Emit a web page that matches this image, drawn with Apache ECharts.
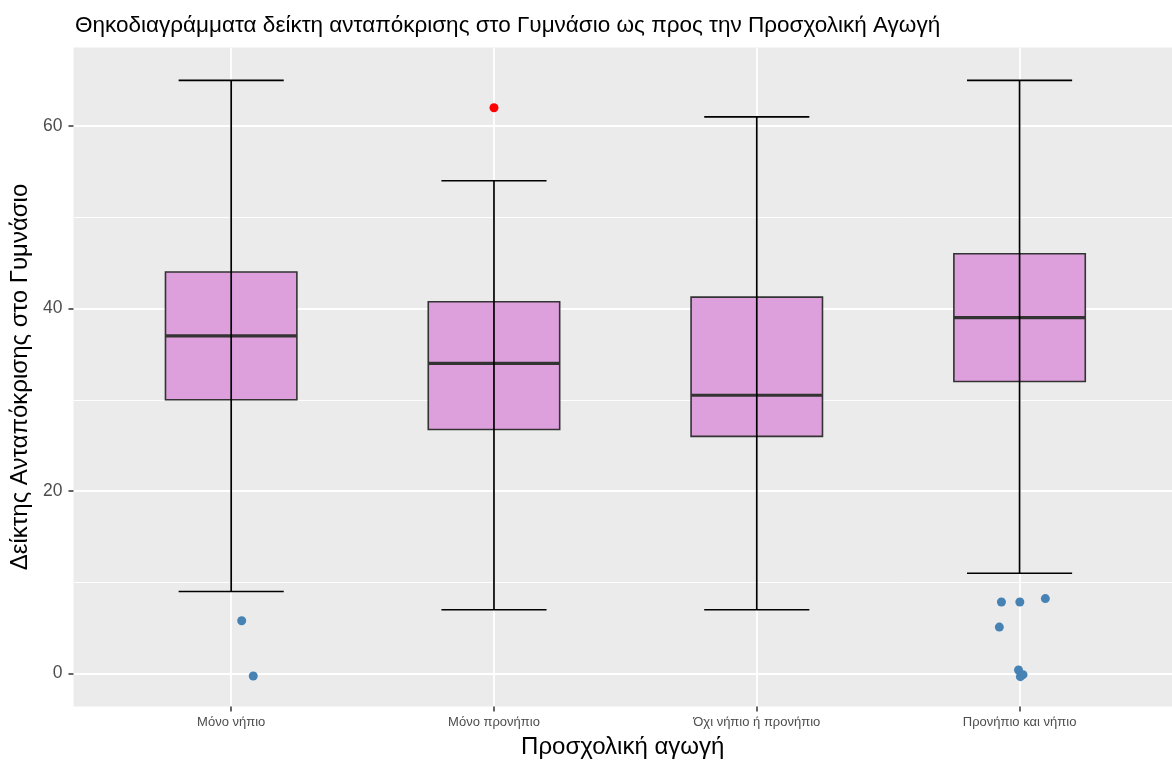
<!DOCTYPE html>
<html>
<head>
<meta charset="utf-8">
<script src="https://cdn.jsdelivr.net/npm/echarts@6/dist/echarts.min.js"></script>
<style>
html, body { margin: 0; padding: 0; background: #fff; }
#chart { width: 1172px; height: 762px; }
</style>
</head>
<body>
<div id="chart"></div>
<script>
// categories (x positions 0..3 on the value axis)
const categories = ['Μόνο νήπιο', 'Μόνο προνήπιο', 'Όχι νήπιο ή προνήπιο', 'Προνήπιο και νήπιο'];
const whiskerLow = [9, 7, 7, 11];
const q1 = [30, 26.75, 26, 32];
const median = [37, 34, 30.5, 39];
const q3 = [44, 40.75, 41.25, 46];
const whiskerHigh = [65, 54, 61, 65];
// outlier of the boxplot (red) and jittered low points (blue)
const redPoints = [[1, 62]];
const jitterPoints = [
  [0.04, 5.8], [0.084, -0.26],
  [2.931, 7.85], [3.001, 7.85], [3.098, 8.22], [2.923, 5.1],
  [2.996, 0.4], [3.003, -0.33], [3.013, -0.11]
];
const yTicks = [0, 20, 40, 60];
const xTicks = [0, 1, 2, 3];

const boxData = categories.map((c, i) => [i, q1[i], median[i], q3[i]]);
const errData = categories.map((c, i) => [i, whiskerLow[i], whiskerHigh[i]]);

const chart = echarts.init(document.getElementById('chart'));
const font = 'Liberation Sans, Arial, sans-serif';

function renderBox(params, api) {
  const x = api.value(0);
  const a = api.coord([x - 0.25, api.value(3)]);
  const b = api.coord([x + 0.25, api.value(1)]);
  const m1 = api.coord([x - 0.25, api.value(2)]);
  const m2 = api.coord([x + 0.25, api.value(2)]);
  return {
    type: 'group',
    children: [
      {
        type: 'rect',
        shape: { x: a[0], y: a[1], width: b[0] - a[0], height: b[1] - a[1] },
        style: { fill: '#DDA0DD', stroke: '#333333', lineWidth: 1.6 }
      },
      {
        type: 'line',
        shape: { x1: m1[0], y1: m1[1], x2: m2[0], y2: m2[1] },
        style: { stroke: '#333333', lineWidth: 3.2 }
      }
    ]
  };
}

function renderErr(params, api) {
  const x = api.value(0);
  const lo = api.coord([x, api.value(1)]);
  const hi = api.coord([x, api.value(2)]);
  const capL = api.coord([x - 0.2, api.value(1)]);
  const capR = api.coord([x + 0.2, api.value(1)]);
  const capL2 = api.coord([x - 0.2, api.value(2)]);
  const capR2 = api.coord([x + 0.2, api.value(2)]);
  const st = { stroke: '#000000', lineWidth: 1.7 };
  return {
    type: 'group',
    children: [
      { type: 'line', shape: { x1: lo[0], y1: lo[1], x2: hi[0], y2: hi[1] }, style: st },
      { type: 'line', shape: { x1: capL[0], y1: capL[1], x2: capR[0], y2: capR[1] }, style: st },
      { type: 'line', shape: { x1: capL2[0], y1: capL2[1], x2: capR2[0], y2: capR2[1] }, style: st }
    ]
  };
}

const option = {
  animation: false,
  backgroundColor: '#ffffff',
  textStyle: { fontFamily: font },
  title: {
    text: 'Θηκοδιαγράμματα δείκτη ανταπόκρισης στο Γυμνάσιο ως προς την Προσχολική Αγωγή',
    left: 70,
    top: 9,
    textStyle: { fontSize: 22.5, fontWeight: 'normal', color: '#000000', fontFamily: font }
  },
  grid: {
    left: 73.5,
    top: 47.5,
    right: 0,
    height: 659,
    outerBoundsMode: 'none',
    containLabel: false,
    show: true,
    backgroundColor: '#EBEBEB',
    borderWidth: 0
  },
  xAxis: {
    type: 'value',
    min: -0.6,
    max: 3.58,
    name: 'Προσχολική αγωγή',
    nameLocation: 'middle',
    nameGap: 29,
    nameTextStyle: { fontSize: 24, color: '#000000', fontFamily: font },
    axisLine: { show: false, onZero: false },
    axisTick: { show: true, customValues: xTicks, length: 5, lineStyle: { color: '#333333', width: 1.5 } },
    axisLabel: {
      customValues: xTicks,
      margin: 9,
      fontSize: 13,
      color: '#4D4D4D',
      fontFamily: font,
      formatter: v => categories[Math.round(v)] || ''
    },
    splitLine: { show: true, lineStyle: { color: '#ffffff', width: 1.8 } }
  },
  yAxis: {
    type: 'value',
    min: -3.6,
    max: 68.6,
    splitNumber: 4,
    name: 'Δείκτης Ανταπόκρισης στο Γυμνάσιο',
    nameLocation: 'middle',
    nameRotate: 90,
    nameGap: 38,
    nameTextStyle: { fontSize: 24, color: '#000000', fontFamily: font },
    axisLine: { show: false, onZero: false },
    axisTick: { show: true, customValues: yTicks, length: 5, lineStyle: { color: '#333333', width: 1.5 } },
    axisLabel: {
      customValues: yTicks,
      margin: 11,
      fontSize: 17.5,
      color: '#4D4D4D',
      fontFamily: font,
      formatter: v => (v % 20 === 0 ? String(v) : '')
    },
    splitLine: { show: true, lineStyle: { color: '#ffffff', width: 1.8 } },
    minorTick: { show: false, splitNumber: 2 },
    minorSplitLine: { show: true, lineStyle: { color: '#ffffff', width: 0.9 } }
  },
  series: [
    {
      type: 'custom',
      renderItem: renderBox,
      data: boxData,
      encode: { x: 0, y: [1, 2, 3] },
      z: 2
    },
    {
      type: 'custom',
      renderItem: renderErr,
      data: errData,
      encode: { x: 0, y: [1, 2] },
      z: 3
    },
    {
      type: 'scatter',
      data: redPoints,
      symbolSize: 9,
      itemStyle: { color: '#FF0000', opacity: 1 },
      z: 4
    },
    {
      type: 'scatter',
      data: jitterPoints,
      symbolSize: 9,
      itemStyle: { color: '#4682B4', opacity: 1 },
      z: 4
    }
  ]
};

chart.setOption(option);
</script>
</body>
</html>
